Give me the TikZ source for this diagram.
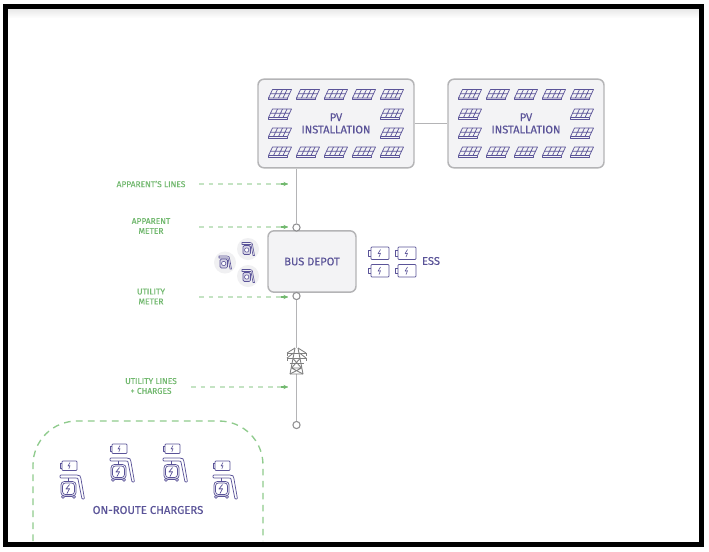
\documentclass[tikz,border=0pt]{standalone}
\usepackage{fontspec}
\setmainfont[FakeBold=0.25]{Fira Sans}
\usetikzlibrary{arrows.meta}
\definecolor{pur}{HTML}{5A5398}
\definecolor{grn}{HTML}{72B96F}
\definecolor{grnl}{HTML}{C4E3C3}
\definecolor{grnd}{HTML}{8FCB8D}
\definecolor{boxb}{HTML}{B4B4B6}
\definecolor{boxf}{HTML}{F3F3F5}
\definecolor{circf}{HTML}{F0F0F2}
\tikzset{
  x=0.75pt,y=-0.75pt,
  bigbox/.style={draw=boxb,fill=boxf,line width=1.1pt,rounded corners=4.5pt,inner sep=0pt,align=center,text=pur,font=\fontsize{8.3}{9.2}\selectfont},
  dot/.style={circle,draw=boxb!80!black,fill=white,line width=.8pt,minimum size=5.4pt,inner sep=0pt},
  wire/.style={draw=boxb,line width=1.1pt},
  lab/.style={text=grn,align=center,font=\fontsize{6.3}{7.4}\selectfont,inner sep=0pt},
  pointer/.style={draw=grnl,line width=.8pt,dash pattern=on 3.6pt off 3.6pt},
  ptip/.style={-{Stealth[length=3.4pt,width=3.2pt]},draw=grn,line width=.8pt},
  ico/.style={draw=pur,line width=.55pt,line join=round},
  pics/panel/.style={code={
    \draw[ico] (-7.5,-5)--(11.5,-5)--(7.5,3.5)--(-11.5,3.5)--cycle;
    \draw[ico] (-11.5,3.5)--(-11.5,5.2)--(7.5,5.2)--(7.5,3.5);
    \draw[ico] (-9.5,-.8)--(9.5,-.8) (-2.5,-5)--(-6.5,3.5) (2.5,-5)--(-1.5,3.5) (7,-5)--(3,3.5);
  }},
  pics/batt/.style={code={
    \draw[ico,rounded corners=.6pt,fill=white] (3,0) rectangle (21,12.5);
    \draw[ico] (3,3.5)--(0,3.5)--(0,9)--(3,9);
    \draw[ico,line width=.45pt] (12.5,2.5)--(10,6.7)--(12.5,6.2)--(11,10);
  }},
  pics/smallbatt/.style={code={
    \draw[ico,rounded corners=.6pt,fill=white] (2,0) rectangle (17,9.5);
    \draw[ico] (2,2.5)--(0,2.5)--(0,7)--(2,7);
    \draw[ico,line width=.45pt] (10,1.6)--(8,5)--(10,4.6)--(8.8,8);
  }},
  pics/evse/.style={code={
    \draw[ico,rounded corners=.6pt] (0,0) -- (16,0) .. controls (20,0) and (20.5,1) .. (21,4) -- (24.5,24) -- (22,24) -- (18,4) .. controls (17.5,3) and (17,3) .. (15,3) -- (0,3) -- cycle;
    \draw[ico] (8,3)--(8,6) (5,6)--(12,6);
    \draw[ico,rounded corners=2.5pt] (1,6.5) rectangle (16,21);
    \draw[ico,rounded corners=2pt] (2.6,8) rectangle (14.4,19.5);
    \draw[ico] (9.5,9.5)--(6,14)--(9.5,13.7)--(7,18.5);
    \draw[ico,fill=white] (3,21.8) circle (1.5) (14,21.8) circle (1.5);
    \draw[ico] (5,21.5)--(12,21.5);
  }},
  pics/charger/.style={code={
    \pic at (0,0) {smallbatt};
    \pic at (0,14) {evse};
  }},
  pics/minich/.style={code={
    \draw[ico,line width=.45pt] (0,0)--(8,0) .. controls (10,0) and (10.2,1) .. (10.5,2) -- (12.5,13) -- (11,13) -- (9,2) -- (0,2) -- cycle;
    \draw[ico,line width=.45pt,rounded corners=1pt,fill=pur!25] (1,3) rectangle (8.5,12);
    \draw[ico,line width=.45pt,fill=white] (4.7,7.5) circle (2.2);
  }},
}
\begin{document}
\begin{tikzpicture}
\useasboundingbox (0,0) rectangle (709,551);
\fill[white] (0,0) rectangle (709,551);
\shade[top color=black!12,bottom color=white] (6,6) rectangle (701,18);
\node[bigbox,minimum width=117pt,minimum height=66.5pt] (pv1) at (336,123.5) {PV\\INSTALLATION};
\node[bigbox,minimum width=117pt,minimum height=66.5pt] (pv2) at (526,123.5) {PV\\INSTALLATION};
\node[bigbox,minimum width=66pt,minimum height=46pt] (depot) at (312,261.5) {BUS DEPOT};
\node[dot] (m1) at (296.5,227.5) {};
\node[dot] (m2) at (296.5,296) {};
\node[dot] (end) at (296.5,425) {};
\draw[wire] (pv1.east)--(pv2.west);
\draw[wire] (pv1.south -| m1)--(m1.north);
\draw[wire] (m2.south)--(end.north);
\foreach \ox in {0,190}{
  \foreach \x in {280,308,336,364,392}{
    \pic at (\x+\ox,94.5) {panel};
    \pic at (\x+\ox,152) {panel};
  }
  \foreach \x in {280,392}{
    \pic at (\x+\ox,114) {panel};
    \pic at (\x+\ox,133) {panel};
  }
}
\begin{scope}[shift={(296.5,361)},draw=black!50,line width=.65pt]
  \fill[white] (-10,-13) rectangle (10,13);
  \draw (-1.5,-13)--(-6.5,13) (1.5,-13)--(6.5,13) (-6.5,13)--(6.5,13);
  \draw (-9.5,-8)--(9.5,-8) (-9.5,-3)--(9.5,-3) (-7,2)--(7,2);
  \draw (-9.5,-8)--(-9.5,-5) (9.5,-8)--(9.5,-5) (-9.5,-3)--(-9.5,0) (9.5,-3)--(9.5,0);
  \draw (-1.5,-13)--(-9.5,-8) (1.5,-13)--(9.5,-8) (-3,-8)--(-9.5,-3) (3,-8)--(9.5,-3);
  \draw (-4,-3)--(5,7)--(-6.5,13) (4,-3)--(-5,7)--(6.5,13) (-5,7)--(5,7);
\end{scope}
\node[lab] (l1) at (151,184) {APPARENT'S LINES};
\node[lab] (l2) at (151,226) {APPARENT\\METER};
\node[lab] (l3) at (151,296.5) {UTILITY\\METER};
\node[lab] (l4) at (151,386) {UTILITY LINES\\+ CHARGES};
\coordinate (a1) at (288,184);
\coordinate (a2) at (288,227);
\coordinate (a3) at (288,297);
\coordinate (a4) at (288,387);
\coordinate (s1) at (199,184);
\coordinate (s2) at (199,227);
\coordinate (s3) at (199,297);
\coordinate (s4) at (191,387);
\foreach \n in {1,2,3,4}{
  \draw[pointer] (s\n)--(a\n);
  \draw[ptip] ([xshift=-5pt]a\n)--(a\n);
}
\foreach \p/\q [count=\i] in {248/249,225/262.5,248/276}{
  \node[circle,fill=circf,minimum size=16.5pt,inner sep=0pt] (c\i) at (\p,\q) {};
  \pic at (\p-6,\q-6.5) {minich};
}
\pic at (368,247) {batt};
\pic at (395,247) {batt};
\pic at (368,264.5) {batt};
\pic at (395,264.5) {batt};
\node[text=pur,font=\fontsize{8.4}{10}\selectfont,inner sep=0pt] (ess) at (431,261) {ESS};
\coordinate (r1) at (33,541);
\coordinate (r2) at (263,541);
\draw[draw=grnd,line width=1pt,dash pattern=on 5pt off 4pt,rounded corners=33pt] (r1)--(33,421)--(263,421)--(r2);
\pic at (60,461) {charger};
\pic at (110,444) {charger};
\pic at (163,444) {charger};
\pic at (213,461) {charger};
\node[text=pur,font=\fontsize{8.5}{10}\selectfont,inner sep=0pt] (on) at (148,510) {ON-ROUTE CHARGERS};
\draw[black,line width=3.75pt] (5.5,6) rectangle (701,544.5);
\end{tikzpicture}
\end{document}
